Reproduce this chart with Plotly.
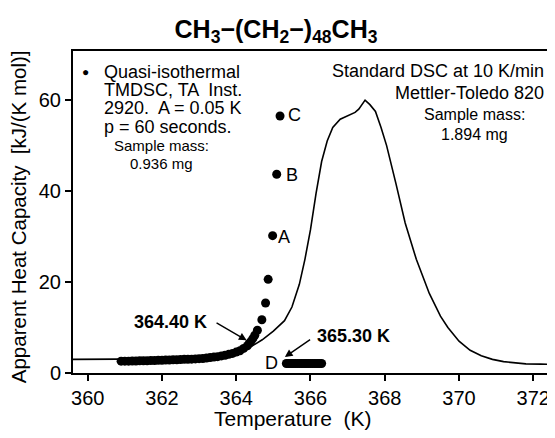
import plotly.graph_objects as go

# ---- data ----
dsc_T = [359.6, 360.0, 360.5, 361.0, 361.5, 362.0, 362.5, 363.0, 363.4, 363.8,
         364.1, 364.4, 364.7, 365.0, 365.3, 365.5, 365.7, 365.85, 366.0, 366.15,
         366.3, 366.45, 366.6, 366.8, 367.0, 367.2, 367.3, 367.47, 367.6, 367.75,
         367.9, 368.05, 368.3, 368.55, 368.85, 369.2, 369.5, 369.7, 370.0, 370.3,
         370.6, 370.9, 371.2, 371.5, 371.8, 372.2, 372.6]
dsc_Cp = [3.0, 3.0, 3.0, 3.0, 3.0, 3.1, 3.2, 3.4, 3.7, 4.2,
          4.8, 5.8, 7.3, 9.2, 11.5, 14.5, 19.5, 25.0, 31.5, 39.5,
          46.5, 51.0, 54.0, 55.8, 56.6, 57.3, 58.0, 60.0, 59.0, 57.5,
          54.0, 50.0, 41.7, 33.0, 25.0, 17.5, 12.5, 10.0, 7.0, 5.0,
          3.8, 3.0, 2.5, 2.2, 2.0, 1.95, 1.9]

tm_T = [360.9, 361.0, 361.1, 361.2, 361.3, 361.4, 361.5, 361.6, 361.7, 361.8,
        361.9, 362.0, 362.1, 362.2, 362.3, 362.4, 362.5, 362.6, 362.7, 362.8,
        362.9, 363.0, 363.1, 363.2, 363.3, 363.4, 363.5, 363.6, 363.7, 363.8,
        363.9, 364.0, 364.1, 364.2, 364.3, 364.35, 364.4, 364.45, 364.5, 364.57,
        364.69, 364.79, 364.86, 364.98, 365.09, 365.18]
tm_Cp = [2.6, 2.6, 2.6, 2.65, 2.65, 2.7, 2.7, 2.7, 2.75, 2.75,
         2.8, 2.8, 2.85, 2.85, 2.9, 2.9, 2.95, 3.0, 3.0, 3.05,
         3.1, 3.15, 3.2, 3.3, 3.4, 3.5, 3.6, 3.75, 3.9, 4.1,
         4.3, 4.6, 4.9, 5.4, 6.0, 6.5, 7.0, 7.6, 8.3, 9.4,
         11.7, 15.4, 20.6, 30.2, 43.7, 56.5]

d_T = [365.35, 365.4, 365.45, 365.5, 365.55, 365.6, 365.65, 365.7, 365.75, 365.8,
       365.85, 365.9, 365.95, 366.0, 366.05, 366.1, 366.15, 366.2, 366.25, 366.3]
d_Cp = [2.1, 2.1, 2.1, 2.1, 2.1, 2.1, 2.1, 2.1, 2.1, 2.1,
        2.1, 2.1, 2.1, 2.1, 2.1, 2.1, 2.1, 2.1, 2.1, 2.1]

x_ticks = [360, 362, 364, 366, 368, 370, 372]
y_ticks = [0, 20, 40, 60]

FONT = "Arial, Liberation Sans, sans-serif"

fig = go.Figure()
fig.add_trace(go.Scatter(x=dsc_T, y=dsc_Cp, mode="lines",
                         line=dict(color="black", width=1.6), showlegend=False))
fig.add_trace(go.Scatter(x=tm_T, y=tm_Cp, mode="markers",
                         marker=dict(color="black", size=9), showlegend=False))
fig.add_trace(go.Scatter(x=d_T, y=d_Cp, mode="markers",
                         marker=dict(color="black", size=9), showlegend=False))

ann = []
def txt(x, y, s, size=18, xanchor="center", bold=False, xref="x", yref="y", **kw):
    if bold:
        s = "<b>" + s + "</b>"
    ann.append(dict(x=x, y=y, xref=xref, yref=yref, text=s, showarrow=False,
                    xanchor=xanchor, yanchor="middle",
                    font=dict(family=FONT, size=size, color="black"), **kw))

# left text block
txt(359.93, 66.2, "●", size=12)
txt(360.377, 66.23, "Quasi-isothermal", xanchor="left")
txt(360.377, 62.2, "TMDSC, TA  Inst.", xanchor="left")
txt(360.377, 58.17, "2920.  A = 0.05 K", xanchor="left")
txt(360.377, 54.13, "p = 60 seconds.", xanchor="left")
txt(362.0, 49.95, "Sample mass:", size=15)
txt(362.0, 46.0, "0.936 mg", size=15)
# right text block
txt(372.34, 66.38, "Standard DSC at 10 K/min", xanchor="right")
txt(372.34, 61.54, "Mettler-Toledo 820", xanchor="right")
txt(370.43, 56.92, "Sample mass:", size=16)
txt(370.43, 52.52, "1.894 mg", size=16)
# point labels
txt(365.29, 30.0, "A")
txt(365.50, 43.5, "B")
txt(365.58, 56.7, "C")
txt(364.94, 2.13, "D")
txt(362.24, 11.15, "364.40 K", bold=True)
txt(367.17, 8.07, "365.30 K", bold=True)
# arrows
for (hx, hy, tx, ty) in [(364.28, 7.19, 363.43, 11.2), (365.31, 3.52, 366.03, 7.57)]:
    ann.append(dict(x=hx, y=hy, xref="x", yref="y", ax=tx, ay=ty, axref="x", ayref="y",
                    text="", showarrow=True, arrowhead=2, arrowsize=1.1,
                    arrowwidth=1.4, arrowcolor="black"))
# axis titles
txt(-0.114, 0.484, "Apparent Heat Capacity  [kJ/(K mol)]", size=20.5,
    xref="paper", yref="paper", textangle=-90)
txt(0.456, -0.141, "Temperature  (K)", size=21, xref="paper", yref="paper")

# page body has an 8px default margin, so the figure is sized/placed to compensate
fig.update_layout(
    width=547, height=430,
    margin=dict(l=65, r=0, t=43, b=65),
    paper_bgcolor="white", plot_bgcolor="white",
    title=dict(text="<b>CH<sub>3</sub>−(CH<sub>2</sub>−)<sub>48</sub>CH<sub>3</sub></b>",
               x=268 / 547, xref="container", xanchor="center",
               y=1 - 21 / 430, yref="container", yanchor="middle",
               font=dict(family=FONT, size=25, color="black")),
    annotations=ann,
    font=dict(family=FONT, color="black"),
)
fig.update_xaxes(range=[359.604, 372.585], tickvals=x_ticks, ticktext=[str(v) for v in x_ticks],
                 showgrid=False, zeroline=False, showline=True, linecolor="black", linewidth=2,
                 mirror=True, ticks="outside", ticklen=6, tickwidth=1.5, tickcolor="black",
                 tickfont=dict(family=FONT, size=20, color="black"))
fig.update_yaxes(range=[0, 70.8], tickvals=y_ticks, ticktext=[str(v) for v in y_ticks],
                 showgrid=False, zeroline=False, showline=True, linecolor="black", linewidth=2,
                 mirror=False, ticks="outside", ticklen=6, tickwidth=1.5, tickcolor="black",
                 tickfont=dict(family=FONT, size=20, color="black"))

fig.write_html("out.html")
